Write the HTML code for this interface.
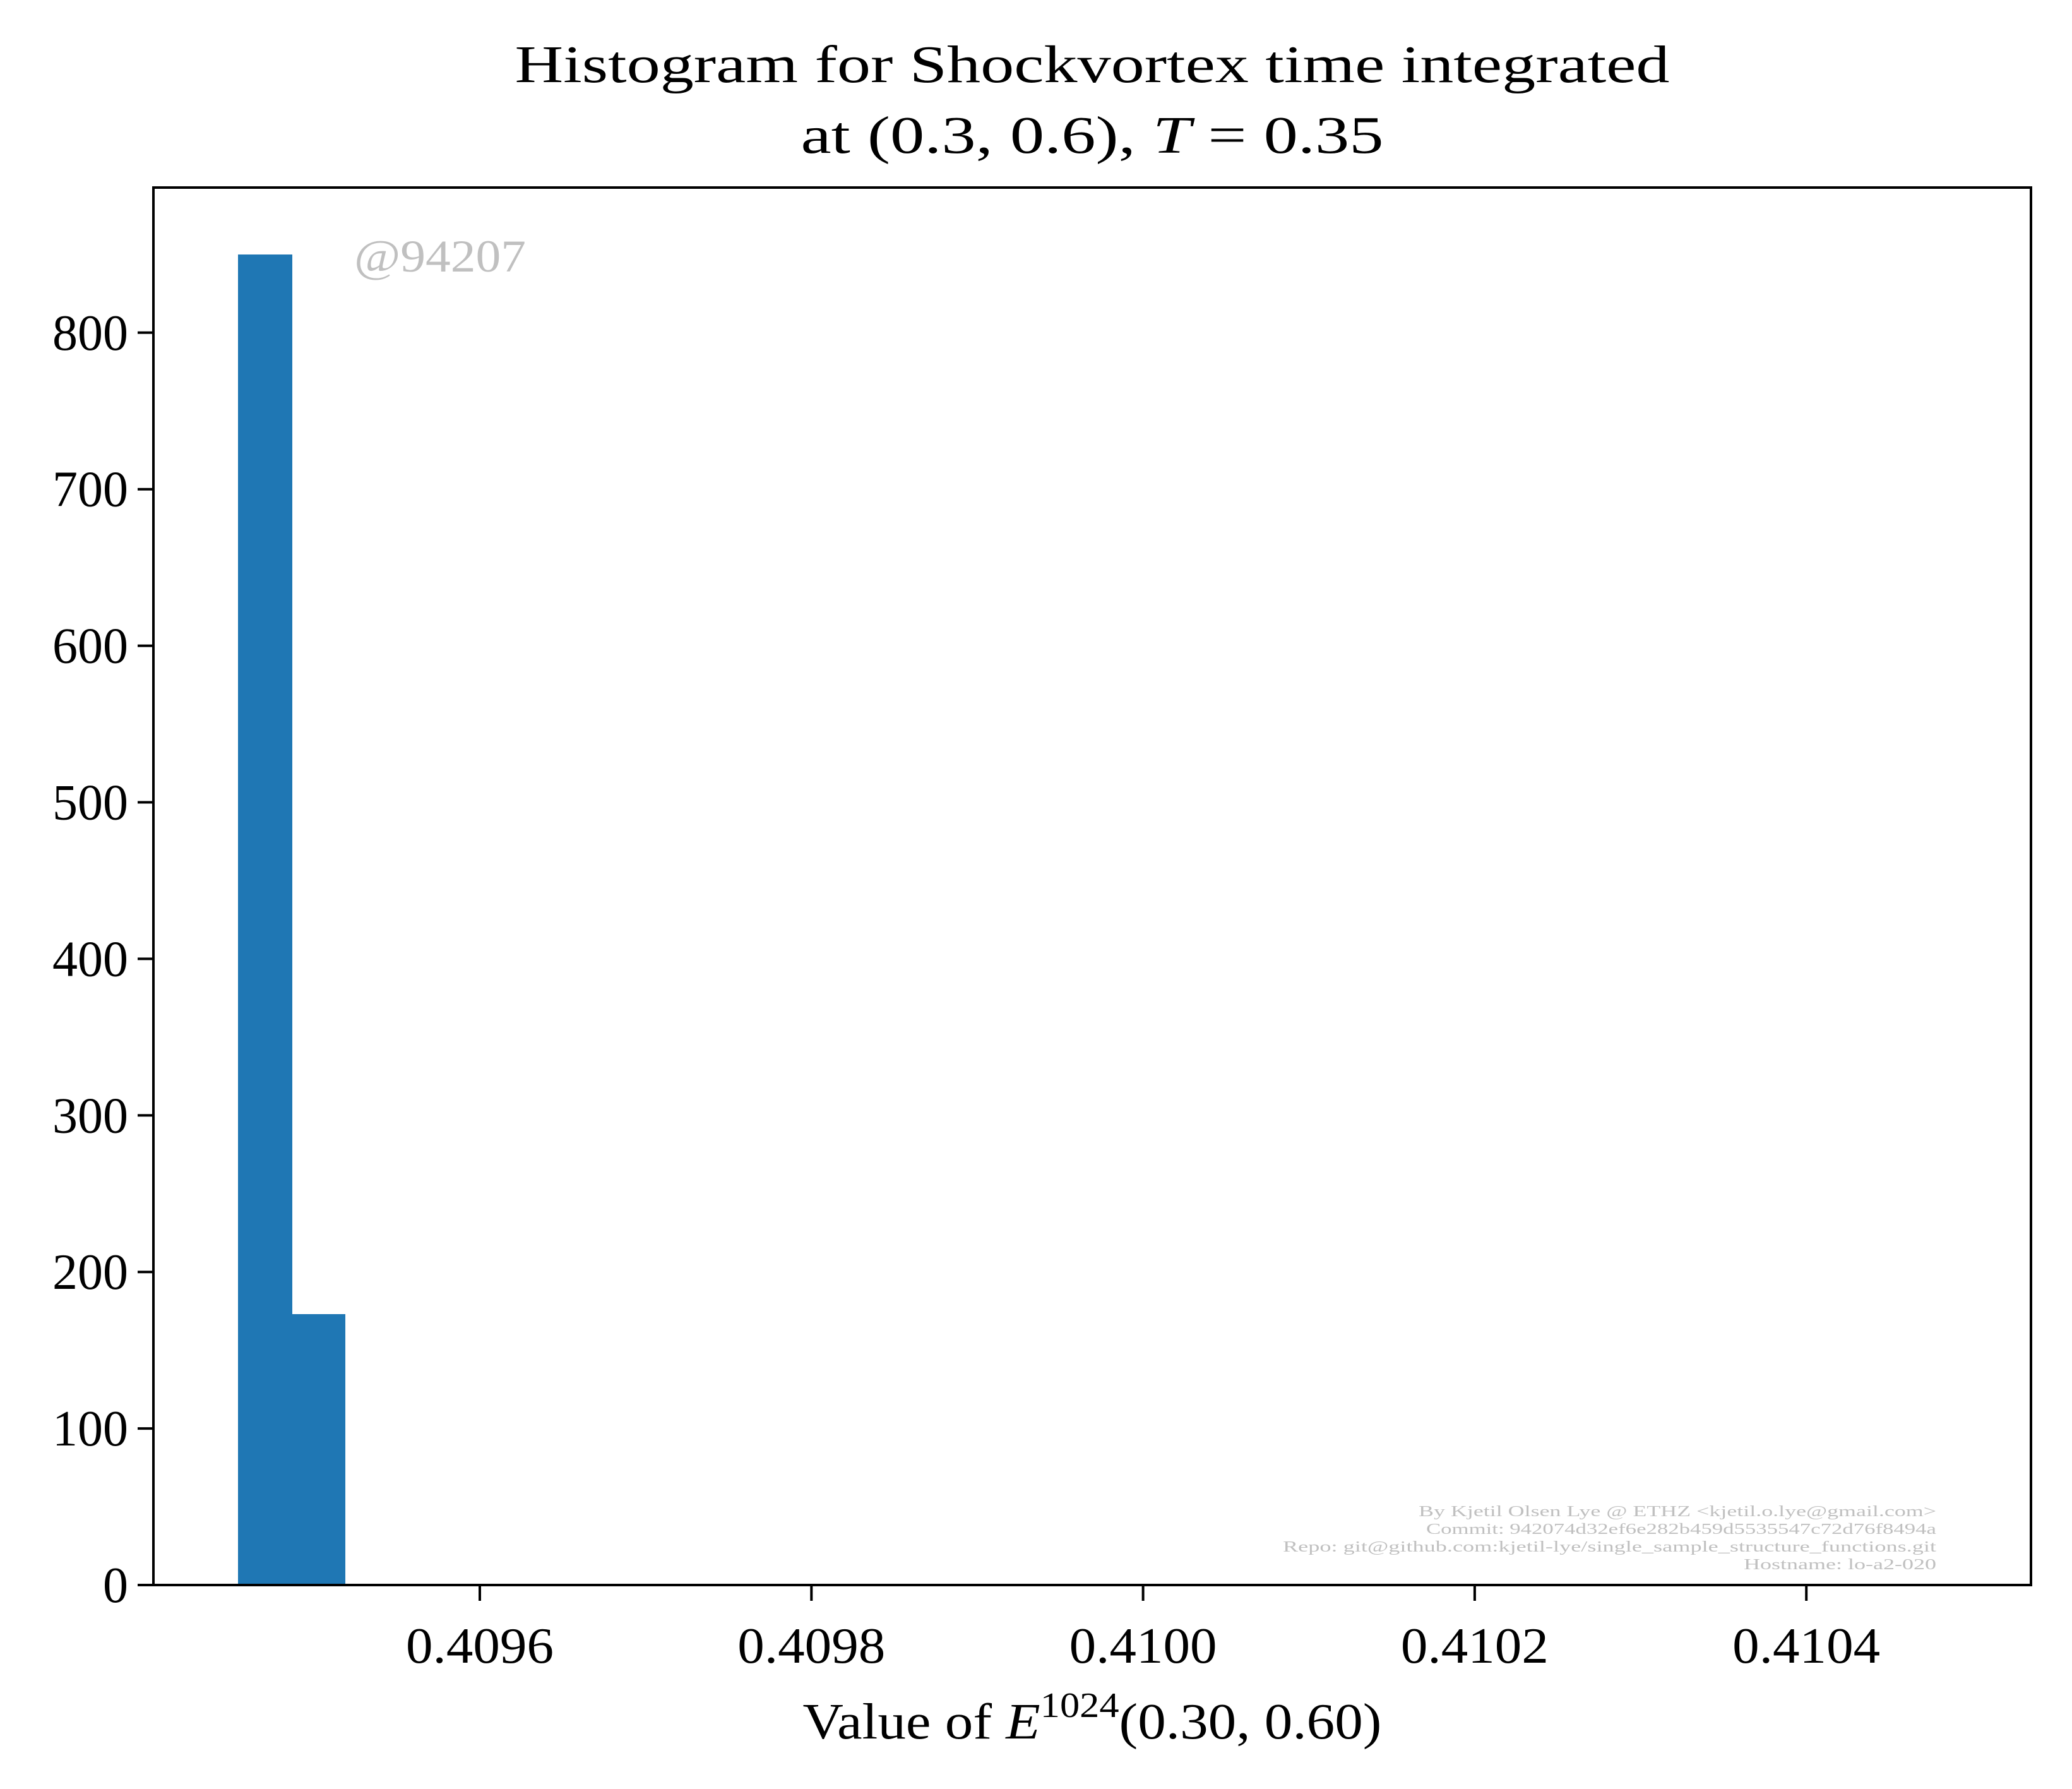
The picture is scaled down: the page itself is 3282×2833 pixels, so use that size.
<!DOCTYPE html>
<html><head><meta charset="utf-8"><style>html,body{margin:0;padding:0;background:#fff}svg{display:block}</style></head>
<body>
<svg id="chart" width="3282" height="2833" viewBox="0 0 3282 2833" xmlns="http://www.w3.org/2000/svg" font-family="'Liberation Serif', serif">
<rect width="3282" height="2833" fill="#fff"/>
<g>
<text x="1730" y="130" font-size="84" text-anchor="middle" textLength="1829" lengthAdjust="spacingAndGlyphs">Histogram for Shockvortex time integrated</text>
<text x="1730" y="242" font-size="84" text-anchor="middle" textLength="923" lengthAdjust="spacingAndGlyphs">at (0.3, 0.6), <tspan font-style="italic">T</tspan> = 0.35</text>
</g>
<g id="bars" shape-rendering="crispEdges"></g>
<g id="xaxis"></g>
<g id="yaxis"></g>
<rect x="243" y="297" width="2974" height="2213" fill="none" stroke="#000" stroke-width="4"/>
<text x="561" y="430" font-size="72" fill="#c0c0c0" textLength="272" lengthAdjust="spacingAndGlyphs">@94207</text>
<g font-size="24" fill="#c0c0c0" text-anchor="end">
<text x="3067" y="2401" textLength="820" lengthAdjust="spacingAndGlyphs">By Kjetil Olsen Lye @ ETHZ &lt;kjetil.o.lye@gmail.com&gt;</text>
<text x="3067" y="2429" textLength="808" lengthAdjust="spacingAndGlyphs">Commit: 942074d32ef6e282b459d5535547c72d76f8494a</text>
<text x="3067" y="2457" textLength="1035" lengthAdjust="spacingAndGlyphs">Repo: git@github.com:kjetil-lye/single_sample_structure_functions.git</text>
<text x="3067" y="2485" textLength="305" lengthAdjust="spacingAndGlyphs">Hostname: lo-a2-020</text>
</g>
<text x="1730" y="2753" font-size="80" text-anchor="middle" textLength="917" lengthAdjust="spacingAndGlyphs">Value of <tspan font-style="italic">E</tspan><tspan font-size="56" dy="-34">1024</tspan><tspan dy="34">(0.30, 0.60)</tspan></text>
<script>
const binEdges = [0.4094542, 0.4094864, 0.4095186];
const counts = [850, 173];
const xTicks = [0.4096, 0.4098, 0.4100, 0.4102, 0.4104];
const xTickLabels = ["0.4096", "0.4098", "0.4100", "0.4102", "0.4104"];
const yTicks = [0, 100, 200, 300, 400, 500, 600, 700, 800];
const yTickLabels = ["0", "100", "200", "300", "400", "500", "600", "700", "800"];

const NS = "http://www.w3.org/2000/svg";
const X0 = 243, X1 = 3217, Y0 = 2510, Y1 = 297;
function xs(v){ return 760 + (v - 0.4096) / 0.0002 * 525.3; }
function ys(v){ return Y0 - v * 2.479; }
function mk(tag, attrs){ const e = document.createElementNS(NS, tag); for (const k in attrs) e.setAttribute(k, attrs[k]); return e; }

const bars = document.getElementById('bars');
counts.forEach((c, i) => {
  const x = Math.round(xs(binEdges[i])), x2 = Math.round(xs(binEdges[i+1]));
  const r = mk('rect', {x: x, y: ys(c), width: x2 - x + 1, height: ys(0) - ys(c), fill: '#1f77b4'});
  
  
  bars.appendChild(r);
});

const xa = document.getElementById('xaxis');
xTicks.forEach((t, i) => {
  const x = xs(t);
  const l = mk('line', {x1: x, x2: x, y1: Y0, y2: Y0 + 25, stroke: '#000', 'stroke-width': 4});
  
  
  xa.appendChild(l);
  const tx = mk('text', {x: x, y: 2633, 'font-size': 80, 'text-anchor': 'middle', textLength: 234, lengthAdjust: 'spacingAndGlyphs'});
  tx.textContent = xTickLabels[i];
  
  
  xa.appendChild(tx);
});

const ya = document.getElementById('yaxis');
yTicks.forEach((t, i) => {
  const y = ys(t);
  const l = mk('line', {x1: X0 - 25, x2: X0, y1: y, y2: y, stroke: '#000', 'stroke-width': 4});
  
  
  ya.appendChild(l);
  const tx = mk('text', {x: 203, y: y + 27, 'font-size': 80, 'text-anchor': 'end'});
  tx.textContent = yTickLabels[i];
  
  
  ya.appendChild(tx);
});
</script>
</svg>
</body></html>
